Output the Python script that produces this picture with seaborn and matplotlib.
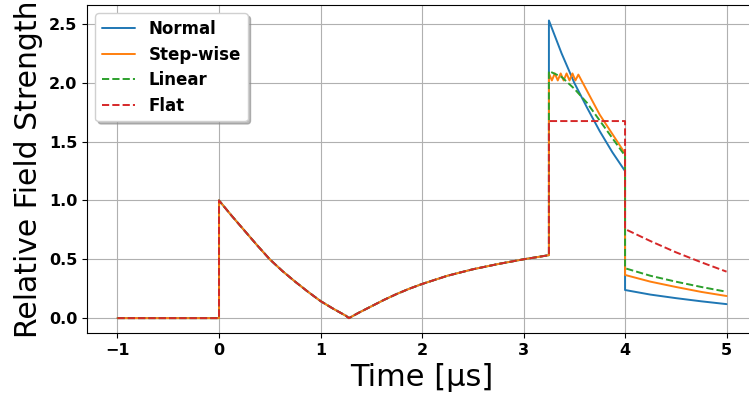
import numpy as np
import pandas as pd
import matplotlib
matplotlib.use("Agg")
import matplotlib.pyplot as plt
import seaborn as sns

# Shared field history before the second pulse (all four schemes agree here)
t_shared = [-1.0, 0.0, 0.0, 0.125, 0.25, 0.375, 0.5, 0.625, 0.75, 0.875, 1.0,
            1.125, 1.25, 1.28, 1.375, 1.5, 1.625, 1.75, 1.875, 2.0, 2.25, 2.5,
            2.75, 3.0, 3.25]
f_shared = [0.0, 0.0, 1.0, 0.87, 0.745, 0.62, 0.50, 0.40, 0.31, 0.225, 0.145,
            0.08, 0.02, 0.0, 0.045, 0.10, 0.155, 0.205, 0.25, 0.29, 0.36, 0.415,
            0.46, 0.50, 0.535]

# Normal
t_normal = [3.25, 3.375, 3.5, 3.625, 3.75, 3.875, 4.0, 4.0, 4.25, 4.5, 4.75, 5.0]
f_normal = [2.53, 2.25, 2.00, 1.79, 1.59, 1.41, 1.25, 0.239, 0.20, 0.17, 0.143, 0.119]

# Step-wise
t_step = [3.25, 3.279, 3.308, 3.337, 3.366, 3.395, 3.424, 3.453, 3.482, 3.511,
          3.54, 3.75, 4.0, 4.0, 4.25, 4.5, 4.75, 5.0]
f_step = [2.08, 2.02, 2.08, 2.02, 2.08, 2.02, 2.08, 2.02, 2.08, 2.02,
          2.07, 1.73, 1.40, 0.367, 0.31, 0.265, 0.223, 0.188]

# Linear
t_linear = [3.25, 3.375, 3.5, 3.625, 3.75, 3.875, 4.0, 4.0, 4.25, 4.5, 4.75, 5.0]
f_linear = [2.10, 2.05, 1.95, 1.83, 1.68, 1.53, 1.38, 0.424, 0.36, 0.31, 0.265, 0.224]

# Flat
t_flat = [3.25, 4.0, 4.0, 4.25, 4.5, 4.75, 5.0]
f_flat = [1.675, 1.675, 0.757, 0.655, 0.56, 0.475, 0.395]

series = [
    ("Normal", t_normal, f_normal, "-", "#1f77b4"),
    ("Step-wise", t_step, f_step, "-", "#ff7f0e"),
    ("Linear", t_linear, f_linear, "--", "#2ca02c"),
    ("Flat", t_flat, f_flat, "--", "#d62728"),
]

sns.set_style("ticks", {
    "axes.edgecolor": "black",
    "text.color": "black",
    "axes.labelcolor": "black",
    "xtick.color": "black",
    "ytick.color": "black",
})
plt.rcParams["font.family"] = ["DejaVu Sans"]

fig = plt.figure(figsize=(7.49, 3.94), dpi=100)
ax = fig.add_axes([0.1162, 0.1548, 0.8945, 0.8325])

for name, t_post, f_post, ls, color in series:
    df = pd.DataFrame({"Time": t_shared + t_post, "Field": f_shared + f_post})
    sns.lineplot(data=df, x="Time", y="Field", estimator=None, sort=False,
                 color=color, linestyle=ls, linewidth=1.4, label=name, ax=ax)

ax.set_xlim(-1.3, 5.3)
ax.set_ylim(-0.1265, 2.6615)
ax.set_xticks([-1, 0, 1, 2, 3, 4, 5])
ax.set_yticks([0.0, 0.5, 1.0, 1.5, 2.0, 2.5])
ax.grid(True, color="#b0b0b0", linewidth=0.8)
ax.set_axisbelow(True)

for lab in ax.get_xticklabels() + ax.get_yticklabels():
    lab.set_fontweight("bold")
    lab.set_fontsize(11.5)

ax.set_xlabel("Time [µs]", fontsize=22)
ax.set_ylabel("Relative Field Strength", fontsize=21.5)

leg = ax.legend(loc="upper left", prop={"weight": "bold", "size": 12},
                shadow={"color": "0.55", "alpha": 0.6}, framealpha=1.0,
                labelspacing=0.45)
leg.get_frame().set_edgecolor("#d0d0d0")

fig.savefig("out.png", dpi=100)
